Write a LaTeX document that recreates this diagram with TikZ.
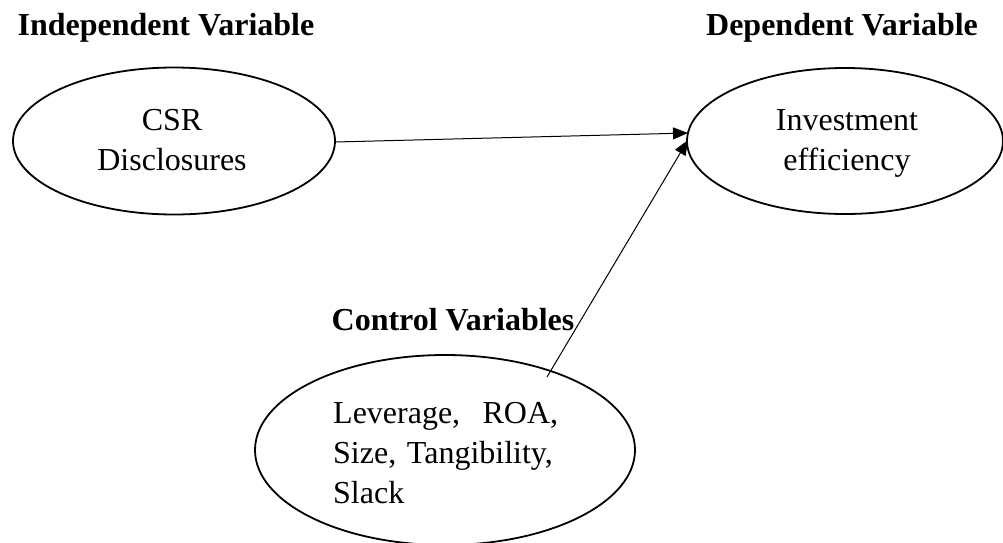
\documentclass[tikz,border=0pt]{standalone}
\usepackage{fontspec}
\setmainfont{Liberation Serif}
\usetikzlibrary{arrows.meta,shapes.geometric}
\begin{document}
\begin{tikzpicture}[x=1pt,y=-1pt,
  oval/.style={draw,line width=1.8pt,ellipse,inner sep=0pt},
  head/.style={font=\fontsize{32}{40}\selectfont\bfseries,inner sep=0pt,anchor=base},
  body/.style={font=\fontsize{32}{40}\selectfont,align=center,inner sep=0pt},
  conn/.style={line width=1pt,-{Triangle[length=15pt,width=12pt]}}]
\useasboundingbox (0,0) rectangle (1003,542);
\node[oval,minimum width=322pt,minimum height=147pt] (csrOval) at (174,141) {};
\node[oval,minimum width=316pt,minimum height=146pt] (invOval) at (845,141) {};
\node[oval,minimum width=380pt,minimum height=190pt] (ctlOval) at (445,450) {};
\coordinate (csrE) at (335,142);
\coordinate (invA) at (688,133);
\coordinate (invB) at (688,140);
\coordinate (ctlE) at (547,377);
\node[head] (indep) at (166,35) {Independent Variable};
\node[head] (dep) at (842,35) {Dependent Variable};
\node[head] (ctl) at (453,330) {Control Variables};
\node[body] (csr) at (172,140) {CSR\\Disclosures};
\node[body] (inv) at (847,143) {Investment\\efficiency};
\node[body,align=left,text width=225pt,anchor=north west] (cv) at (333,402)
  {Leverage,\hfill ROA,\\Size, Tangibility,\\Slack};
\draw[conn] (csrE) -- (invA);
\draw[conn] (ctlE) -- (invB);
\end{tikzpicture}
\end{document}
